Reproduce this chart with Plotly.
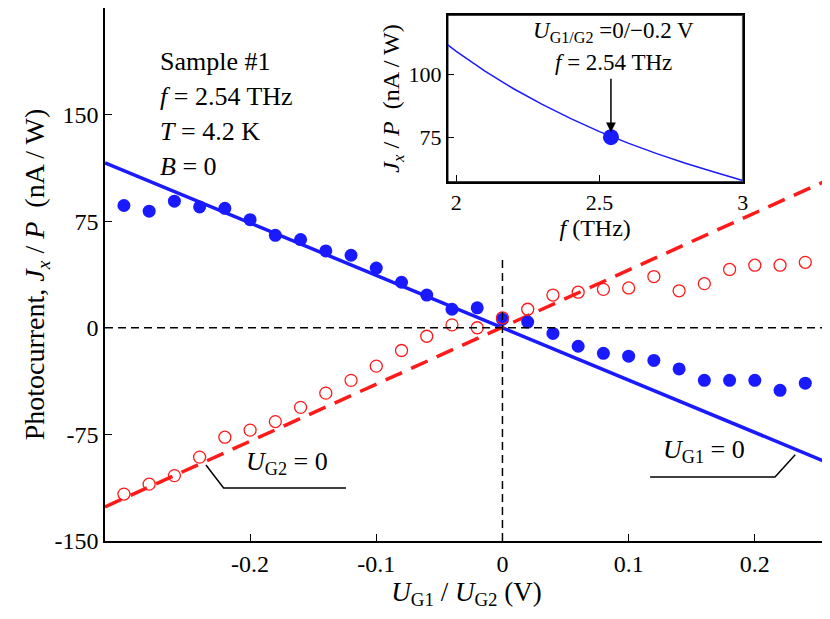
import plotly.graph_objects as go

x_pts = [-0.30,-0.28,-0.26,-0.24,-0.22,-0.20,-0.18,-0.16,-0.14,-0.12,-0.10,-0.08,-0.06,-0.04,-0.02,0.0,
         0.02,0.04,0.06,0.08,0.10,0.12,0.14,0.16,0.18,0.20,0.22,0.24]
blue = [86,82,89,85,84,76,65,62,54,51,42,32,23,13,14,6,4,-4,-13,-18,-20,-23,-29,-37,-37,-37,-44,-39]
red = [-117,-110,-104,-91,-77,-72,-66,-56,-46,-37,-27,-16,-6,2,0,7,13,23,25,27,28,36,26,31,41,44,44,46]
blue_fit_x = [-0.315, 0.258]
blue_fit_y = [116, -95]
red_fit_x = [-0.315, 0.258]
red_fit_y = [-126, 104]
f_inset = [1.97,2.0,2.1,2.2,2.3,2.4,2.5,2.6,2.7,2.8,2.9,3.0]
j_inset = [112,109.4,101.5,94.4,88.1,82.4,77.2,72.6,68.4,64.5,61.0,57.6]
dot_f = [2.54]; dot_j = [75]

F = "Liberation Serif, Times New Roman, serif"
fig = go.Figure()
fig.add_trace(go.Scatter(x=blue_fit_x, y=blue_fit_y, mode="lines", line=dict(color="#1a1aff", width=3.5)))
fig.add_trace(go.Scatter(x=red_fit_x, y=red_fit_y, mode="lines", line=dict(color="#ff1a1a", width=3.5, dash="18px,10px")))
fig.add_trace(go.Scatter(x=x_pts, y=blue, mode="markers", marker=dict(color="#1a1aff", size=13)))
fig.add_trace(go.Scatter(x=x_pts, y=red, mode="markers", marker=dict(color="rgba(0,0,0,0)", size=12, line=dict(color="#ff1a1a", width=1.3))))
fig.add_trace(go.Scatter(x=f_inset, y=j_inset, mode="lines", line=dict(color="#1a1aff", width=1.5), xaxis="x2", yaxis="y2"))
fig.add_trace(go.Scatter(x=dot_f, y=dot_j, mode="markers", marker=dict(color="#1a1aff", size=16), xaxis="x2", yaxis="y2"))

ax = dict(showgrid=False, zeroline=False, showline=True, mirror=True, linecolor="black", linewidth=1.5,
          ticks="inside", ticklen=7, tickcolor="black", automargin=False,
          tickfont=dict(family=F, size=24, color="black"))
fig.update_layout(
    width=822, height=611, margin=dict(l=97, r=2, t=0, b=78, autoexpand=False), showlegend=False,
    plot_bgcolor="white", paper_bgcolor="white", font=dict(family=F, color="black"),
    xaxis=dict(ax, range=[-0.315, 0.258], tickvals=[-0.2,-0.1,0,0.1,0.2], ticktext=["-0.2","-0.1","0","0.1","0.2"],
               title=dict(text="<i>U</i><sub>G1</sub> / <i>U</i><sub>G2</sub> (V)", font=dict(family=F, size=27), standoff=2)),
    yaxis=dict(ax, range=[-150, 224.9], tickvals=[-150,-75,0,75,150], ticktext=["-150","-75","0","75","150"],
               title=dict(text="Photocurrent, <i>J<sub>x</sub></i> / <i>P</i>  (nA / W)", font=dict(family=F, size=28), standoff=2)),
    xaxis2=dict(ax, domain=[0.474, 0.882], anchor="y2", range=[1.97, 3.0], tickvals=[2,2.5,3], ticktext=["2","2.5","3"],
                tickfont=dict(family=F, size=22, color="black"),
                title=dict(text="<i>f</i> (THz)", font=dict(family=F, size=24), standoff=2)),
    yaxis2=dict(ax, domain=[0.6735, 0.987], anchor="x2", range=[57, 124], tickvals=[75,100],
                tickfont=dict(family=F, size=22, color="black"),
                title=dict(text="<i>J<sub>x</sub></i> / <i>P</i>  (nA / W)", font=dict(family=F, size=24), standoff=2)),
)
lk = dict(color="black", width=1.5)
fig.add_shape(type="line", x0=-0.315, x1=0.258, y0=0, y1=0, line=dict(color="black", width=1.5, dash="8px,5px"))
fig.add_shape(type="line", x0=0, x1=0, y0=-150, y1=50, line=dict(color="black", width=1.5, dash="8px,5px"))
fig.add_shape(type="path", path="M -0.235,-96.5 L -0.221,-112.7 L -0.124,-112.7", line=lk)
fig.add_shape(type="path", path="M 0.232,-89.4 L 0.216,-105 L 0.117,-105", line=lk)
fig.add_shape(type="rect", xref="x2", yref="y2", x0=1.97, x1=3.0, y0=57, y1=124, line=dict(color="black", width=1.5), layer="below")

def txt(x, y, t, size=26, xref="x", yref="y", xanchor="left"):
    fig.add_annotation(x=x, y=y, xref=xref, yref=yref, text=t, showarrow=False, xanchor=xanchor,
                       font=dict(family=F, size=size, color="black"))
txt(-0.171, -95, "<i>U</i><sub>G2</sub> = 0", xanchor="center")
txt(0.160, -87, "<i>U</i><sub>G1</sub> = 0", xanchor="center")
for i, t in enumerate(["Sample #1", "<i>f</i> = 2.54 THz", "<i>T</i> = 4.2 K", "<i>B</i> = 0"]):
    py = 45 + 35 * i
    fig.add_annotation(x=(158 - 105) / 723, y=(541 - py) / 533, xref="paper", yref="paper", text=t, showarrow=False,
                       xanchor="left", font=dict(family=F, size=26, color="black"))
txt(2.55, 117, "<i>U</i><sub>G1/G2</sub> =0/−0.2 V", size=23, xref="x2", yref="y2", xanchor="center")
txt(2.55, 105, "<i>f</i> = 2.54 THz", size=23, xref="x2", yref="y2", xanchor="center")
fig.add_annotation(x=2.54, y=77, xref="x2", yref="y2", ax=2.54, ay=99, axref="x2", ayref="y2", text="",
                   showarrow=True, arrowhead=2, arrowsize=1.3, arrowwidth=1.5, arrowcolor="black")
fig.write_html("out.html")
